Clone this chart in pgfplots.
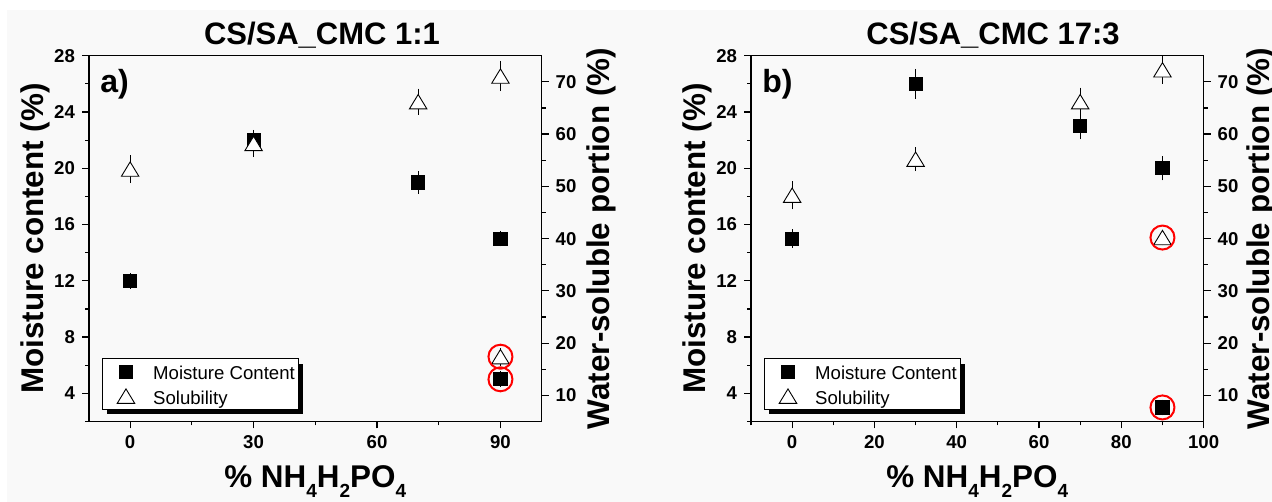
\documentclass[border=0pt]{standalone}
\usepackage{fontspec}
\setmainfont{Liberation Sans}
\usepackage{pgfplots}
\pgfplotsset{compat=1.18}
\usepackage{pgfplotstable}
\usetikzlibrary{shadows}

\definecolor{bgc}{RGB}{249,249,249}

% CS/SA_CMC 1:1 -- moisture content (%) and water-soluble portion (%)
\pgfplotstableread{
x y e
0  12   0.3
30 22   0.3
70 19   0.55
90 15   0.3
90 5    0.3
}\moistA
\pgfplotstableread{
x y e
0  53.3 2.0
30 58.2 1.9
70 66.2 1.8
90 71.1 2.2
90 17.4 1.0
}\solA
% CS/SA_CMC 17:3
\pgfplotstableread{
x y e
0  15   0.4
30 26   0.8
70 23   0.7
90 20   0.6
90 3    0.3
}\moistB
\pgfplotstableread{
x y e
0  48.3 2.0
30 55.2 1.6
70 66.2 2.0
90 72.3 2.0
90 40.2 0.8
}\solB
% highlighted samples
\pgfplotstableread{
x y
90 5
}\ringMA
\pgfplotstableread{
x y
90 17.4
}\ringSA
\pgfplotstableread{
x y
90 3
}\ringMB
\pgfplotstableread{
x y
90 40.2
}\ringSB

\newcommand\tickfont{\fontsize{9.3}{11}\selectfont\bfseries}
\newcommand\labfont{\fontsize{15.7}{18}\selectfont\bfseries}
\newcommand\titfont{\fontsize{15.5}{18}\selectfont\bfseries}
\newcommand\legfont{\fontsize{9.3}{11}\selectfont}
\newcommand\sub[1]{\raisebox{-5pt}{\fontsize{9.5}{10}\selectfont #1}}

\pgfplotsset{
  mcbase/.style={scale only axis, width=226.3pt, height=182.9pt,
    xmin=-10, xmax=100, clip=false, tick align=outside,
    major tick length=3.5pt, minor tick length=2pt,
    every tick/.append style={black, line width=0.6pt},
    axis line style={line width=0.6pt, black},
    tick label style={font=\tickfont},
    /pgf/number format/assume math mode=true},
  leftaxis/.style={mcbase, ymin=2, ymax=28, ytick={4,8,...,28},
    minor ytick={2,6,...,26}, xtick pos=bottom, ytick pos=left},
  rightaxis/.style={mcbase, ymin=5, ymax=75, ytick={10,20,...,70},
    minor ytick={15,25,...,65}, axis x line=none, axis y line*=right},
  msq/.style={only marks, mark=square*, mark size=3.3pt, black,
    mark options={solid, fill=black}},
  tri/.style={only marks, mark=triangle*, mark size=4.8pt, black,
    mark options={solid, fill=white, draw=black, line width=0.45pt,
      xscale=1.05, yshift=-1.2pt}},
  ebar/.style={error bars/y dir=both, error bars/y explicit,
    error bars/error bar style={draw=black, line width=0.45pt},
    error bars/error mark options={draw=black, mark size=1.8pt, line width=0.45pt}},
  ring/.style={only marks, mark=o, mark size=6pt,
    mark options={red, line width=1pt}},
  mclegend/.style={legend cell align=left,
    legend image code/.code={%
      \path (-9.75pt,0pt) (13.35pt,0pt);
      \draw[##1] plot coordinates {(0pt,0pt)};},
    legend style={at={(axis description cs:0.028,0.173)}, anchor=north west,
      draw=black, line width=0.5pt, fill=white, font=\legfont,
      inner xsep=1.9pt, inner ysep=1pt, row sep=1.2pt, column sep=0pt,
      nodes={inner xsep=0pt, inner ysep=0pt, text height=9.5pt, text depth=1.5pt},
      drop shadow={shadow xshift=2.3pt, shadow yshift=-2.4pt, fill=black, opacity=1}}},
}

\begin{document}
\begin{tikzpicture}
\useasboundingbox (0,0) rectangle (636pt,251pt);
\fill[bgc] (3.5pt,0) rectangle (636pt,246pt);

% ---------- panel a ----------
\begin{axis}[leftaxis, at={(44.5pt,40.25pt)}, anchor=south west,
  xtick={0,30,60,90}, minor xtick={15,45,75}]
\addplot[msq, ebar] table[x=x, y=y, y error=e] {\moistA};
\addplot[ring] table {\ringMA};
\end{axis}
\begin{axis}[rightaxis, at={(44.5pt,40.25pt)}, anchor=south west, mclegend]
\addlegendimage{msq}
\addlegendentry{Moisture Content}
\addplot[tri] table[x=x, y=y] {\solA};
\addlegendentry{Solubility}
% error bars drawn over the open triangles
\addplot[forget plot, draw=none, mark=none, ebar] table[x=x, y=y, y error=e] {\solA};
\addplot[forget plot, ring] table {\ringSA};
\end{axis}

% ---------- panel b ----------
\begin{axis}[leftaxis, at={(375.5pt,40.25pt)}, anchor=south west,
  xtick={0,20,...,100}, minor xtick={-10,10,30,50,70,90}]
\addplot[msq, ebar] table[x=x, y=y, y error=e] {\moistB};
\addplot[ring] table {\ringMB};
\end{axis}
\begin{axis}[rightaxis, at={(375.5pt,40.25pt)}, anchor=south west, mclegend]
\addlegendimage{msq}
\addlegendentry{Moisture Content}
\addplot[tri] table[x=x, y=y] {\solB};
\addlegendentry{Solubility}
\addplot[forget plot, draw=none, mark=none, ebar] table[x=x, y=y, y error=e] {\solB};
\addplot[forget plot, ring] table {\ringSB};
\end{axis}

% titles, panel letters and axis labels
\node[anchor=base, font=\titfont] at (161pt,228.5pt) {CS/SA\_CMC 1:1};
\node[anchor=base, font=\titfont] at (496.5pt,228.5pt) {CS/SA\_CMC 17:3};
\node[anchor=base west, font=\fontsize{16}{18}\selectfont\bfseries, inner sep=0pt] at (50pt,204.5pt) {a)};
\node[anchor=base west, font=\fontsize{16}{18}\selectfont\bfseries, inner sep=0pt] at (381pt,204.5pt) {b)};
\node[anchor=base, font=\labfont] at (157.6pt,7pt) {\% NH\sub{4}H\sub{2}PO\sub{4}};
\node[anchor=base, font=\labfont] at (488.6pt,7pt) {\% NH\sub{4}H\sub{2}PO\sub{4}};
\node[rotate=90, anchor=base, font=\labfont] at (21.5pt,131.7pt) {Moisture content (\%)};
\node[rotate=90, anchor=base, font=\labfont] at (352.5pt,131.7pt) {Moisture content (\%)};
\node[rotate=90, anchor=base, font=\labfont] at (304.5pt,131.7pt) {Water-soluble portion (\%)};
\node[rotate=90, anchor=base, font=\labfont] at (634.5pt,131.7pt) {Water-soluble portion (\%)};
\end{tikzpicture}
\end{document}
